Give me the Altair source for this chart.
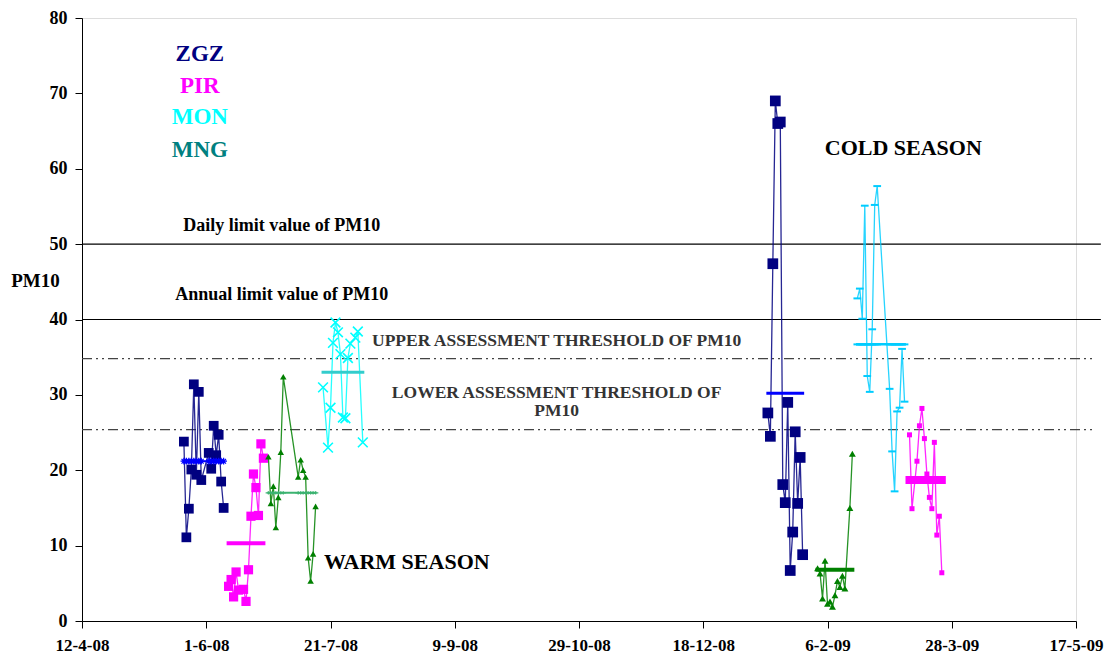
import altair as alt
import pandas as pd

# ---------------- data ----------------
zgz_w_dates = ["2008-05-23", "2008-05-24", "2008-05-25", "2008-05-26", "2008-05-27", "2008-05-28",
               "2008-05-29", "2008-05-30", "2008-06-02", "2008-06-03", "2008-06-04", "2008-06-05",
               "2008-06-06", "2008-06-07", "2008-06-08"]
zgz_w_vals = [23.8, 11.1, 14.9, 20.1, 31.4, 19.4, 30.4, 18.7, 22.3, 20.2, 25.9, 22.0, 24.7, 18.5, 15.0]
zgz_w_mean = 21.2

pir_w_dates = ["2008-06-10", "2008-06-11", "2008-06-12", "2008-06-13", "2008-06-14", "2008-06-16",
               "2008-06-17", "2008-06-18", "2008-06-19", "2008-06-20", "2008-06-21", "2008-06-22",
               "2008-06-23", "2008-06-24"]
pir_w_vals = [4.6, 5.5, 3.2, 6.5, 4.1, 4.2, 2.6, 6.8, 13.9, 19.5, 17.7, 14.0, 23.5, 21.6]
pir_w_mean = 10.3

mng_w_dates = ["2008-06-26", "2008-06-27", "2008-06-28", "2008-06-29", "2008-06-30", "2008-07-01",
               "2008-07-02", "2008-07-08", "2008-07-09", "2008-07-10", "2008-07-11", "2008-07-12",
               "2008-07-13", "2008-07-14", "2008-07-15"]
mng_w_vals = [21.8, 15.6, 17.9, 12.4, 16.4, 22.4, 32.4, 19.1, 21.4, 20.0, 19.1, 8.4, 5.3, 8.9, 15.2]
mng_w_mean = 17.0

mon_w_dates = ["2008-07-18", "2008-07-20", "2008-07-21", "2008-07-22", "2008-07-23", "2008-07-24",
               "2008-07-25", "2008-07-26", "2008-07-27", "2008-07-28", "2008-07-29", "2008-07-31",
               "2008-08-01", "2008-08-03"]
mon_w_vals = [31.0, 23.0, 28.3, 36.9, 39.6, 38.3, 35.4, 27.0, 26.9, 34.9, 36.8, 37.6, 38.4, 23.7]
mon_w_mean = 33.0

zgz_c_dates = ["2009-01-13", "2009-01-14", "2009-01-15", "2009-01-16", "2009-01-17", "2009-01-18",
               "2009-01-19", "2009-01-20", "2009-01-21", "2009-01-22", "2009-01-23", "2009-01-24",
               "2009-01-25", "2009-01-26", "2009-01-27"]
zgz_c_vals = [27.6, 24.5, 47.4, 69.0, 66.0, 66.2, 18.1, 15.7, 29.0, 6.7, 11.8, 25.1, 15.6, 21.7, 8.8]
zgz_c_mean = 30.2

mng_c_dates = ["2009-02-02", "2009-02-03", "2009-02-04", "2009-02-05", "2009-02-06", "2009-02-07",
               "2009-02-08", "2009-02-09", "2009-02-10", "2009-02-11", "2009-02-12", "2009-02-13",
               "2009-02-15", "2009-02-16"]
mng_c_vals = [7.0, 6.3, 3.0, 8.0, 2.3, 2.6, 1.9, 3.4, 5.3, 4.5, 6.0, 4.3, 15.0, 22.2]
mng_c_mean = 6.8

mon_c_dates = ["2009-02-18", "2009-02-19", "2009-02-20", "2009-02-21", "2009-02-22", "2009-02-23",
               "2009-02-24", "2009-02-25", "2009-02-26", "2009-03-03", "2009-03-04", "2009-03-05",
               "2009-03-06", "2009-03-07", "2009-03-08", "2009-03-09"]
mon_c_vals = [42.8, 44.1, 40.1, 55.1, 32.5, 30.4, 38.7, 55.2, 57.7, 30.8, 22.5, 17.2, 27.8, 28.3, 36.1, 29.1]
mon_c_mean = 36.7

pir_c_dates = ["2009-03-11", "2009-03-12", "2009-03-14", "2009-03-15", "2009-03-16", "2009-03-17",
               "2009-03-18", "2009-03-19", "2009-03-20", "2009-03-21", "2009-03-22", "2009-03-23",
               "2009-03-24"]
pir_c_vals = [24.7, 14.9, 21.2, 25.9, 28.2, 24.2, 19.5, 16.4, 14.9, 23.7, 11.4, 13.9, 6.4]
pir_c_mean = 18.7

daily_limit = 50
annual_limit = 40
upper_threshold = 34.8
lower_threshold = 25.4

x_tick_dates = ["2008-04-12", "2008-06-01", "2008-07-21", "2008-09-09", "2008-10-29",
                "2008-12-18", "2009-02-06", "2009-03-28", "2009-05-17"]
x_domain = ["2008-04-12", "2009-05-17"]
line_end = "2009-05-27"
dash_end = "2009-05-25"

legend_names = ["ZGZ", "PIR", "MON", "MNG"]
legend_colors = ["#000080", "#FF00FF", "#00FFFF", "#008080"]
legend_y = [75.2, 71.0, 66.8, 62.5]
legend_x = "2008-05-29T10:00"

FONT = "Liberation Serif"

# ---------------- scales ----------------
x_scale = alt.Scale(domain=[alt.DateTime(year=2008, month=4, date=12),
                            alt.DateTime(year=2009, month=5, date=17)])
y_scale = alt.Scale(domain=[0, 80])

tick_vals = [alt.DateTime(year=pd.Timestamp(d).year, month=pd.Timestamp(d).month,
                          date=pd.Timestamp(d).day) for d in x_tick_dates]

X = alt.X("date:T", scale=x_scale,
          axis=alt.Axis(values=tick_vals, format="%-d-%-m-%y", title=None, grid=False,
                        labelFont=FONT, labelFontSize=17, labelFontWeight="bold",
                        labelColor="black", domainColor="black", tickColor="black",
                        tickSize=7, labelPadding=9, labelFlush=False))
Y = alt.Y("value:Q", scale=y_scale,
          axis=alt.Axis(values=list(range(0, 81, 10)), title="PM10", grid=False,
                        labelFont=FONT, labelFontSize=18, labelFontWeight="bold",
                        labelColor="black", domainColor="black", tickColor="black",
                        tickSize=7, labelPadding=8,
                        titleFont=FONT, titleFontSize=19, titleFontWeight="bold",
                        titleColor="black", titleAngle=0, titleAlign="center",
                        titleBaseline="middle", titleX=-47, titleY=262))

XP = alt.X("date:T", scale=x_scale)
YP = alt.Y("value:Q", scale=y_scale)


def frame(dates, vals):
    return pd.DataFrame({"date": pd.to_datetime(dates), "value": vals})


def series(dates, vals, color, shape, size, filled=True, lw=1.3, pstroke=1.5):
    df = frame(dates, vals)
    line = alt.Chart(df).mark_line(color=color, strokeWidth=lw, opacity=0.85).encode(x=XP, y=YP)
    pts = alt.Chart(df).mark_point(shape=shape, size=size, filled=filled, color=color,
                                   opacity=1, strokeWidth=pstroke).encode(x=XP, y=YP)
    return [line, pts]


def mean_series(dates, value, color, lw, shape=None, size=30, pstroke=1.2):
    df = frame(dates, [value] * len(dates))
    layers = [alt.Chart(df).mark_line(color=color, strokeWidth=lw, strokeCap="square").encode(x=XP, y=YP)]
    if shape is not None:
        layers.append(alt.Chart(df).mark_point(shape=shape, size=size, filled=False, color=color,
                                               opacity=1, strokeWidth=pstroke).encode(x=XP, y=YP))
    return layers


X_SHAPE = "M-1,-1L1,1M1,-1L-1,1"
DASH_SHAPE = "M-1,0L1,0"
STAR_SHAPE = "M-1,0L1,0M0,-1L0,1M-0.7,-0.7L0.7,0.7M-0.7,0.7L0.7,-0.7"
PLUS_SHAPE = "M-1,0L1,0M0,-0.6L0,0.6"

layers = []

# reference lines
ref_df = pd.DataFrame({"date": pd.to_datetime([x_domain[0], x_domain[0]]),
                       "date2": pd.to_datetime([line_end, line_end]),
                       "value": [daily_limit, annual_limit]})
layers.append(alt.Chart(ref_df).mark_rule(color="black", strokeWidth=1.2, clip=False).encode(
    x=X, x2="date2:T", y=Y))
thr_df = pd.DataFrame({"date": pd.to_datetime([x_domain[0], x_domain[0]]),
                       "date2": pd.to_datetime([dash_end, dash_end]),
                       "value": [upper_threshold, lower_threshold]})
layers.append(alt.Chart(thr_df).mark_rule(color="#444444", strokeWidth=1.3, clip=False,
                                          strokeDash=[10, 4, 2, 4, 2, 4]).encode(
    x=XP, x2="date2:T", y=YP))

# warm season
layers += series(zgz_w_dates, zgz_w_vals, "#000080", "square", 95)
layers += mean_series(zgz_w_dates, zgz_w_mean, "#0000FF", 2, STAR_SHAPE, 45, 1.2)
layers += series(pir_w_dates, pir_w_vals, "#FF00FF", "square", 85)
layers += mean_series(pir_w_dates, pir_w_mean, "#FF00FF", 4)
layers += series(mng_w_dates, mng_w_vals, "#008000", "triangle-up", 42)
layers += mean_series(mng_w_dates, mng_w_mean, "#3CB371", 2, PLUS_SHAPE, 30, 1.2)
layers += series(mon_w_dates, mon_w_vals, "#00FFFF", X_SHAPE, 95, filled=False, lw=1.3, pstroke=1.6)
layers += mean_series(mon_w_dates, mon_w_mean, "#33CCCC", 3)

# cold season
layers += series(zgz_c_dates, zgz_c_vals, "#000080", "square", 115)
layers += mean_series(zgz_c_dates, zgz_c_mean, "#0000FF", 3)
layers += series(mng_c_dates, mng_c_vals, "#008000", "triangle-up", 48)
layers += mean_series(mng_c_dates, mng_c_mean, "#008000", 4)
layers += series(mon_c_dates, mon_c_vals, "#00CCFF", DASH_SHAPE, 60, filled=False, lw=1.3, pstroke=2)
layers += mean_series(mon_c_dates, mon_c_mean, "#00CCFF", 2.5, DASH_SHAPE, 60, 2)
layers += series(pir_c_dates, pir_c_vals, "#FF00FF", "square", 25)
layers += mean_series(pir_c_dates, pir_c_mean, "#FF00FF", 8)

# legend text
leg_df = pd.DataFrame({"date": pd.to_datetime([legend_x] * 4), "value": legend_y,
                       "label": legend_names, "color": legend_colors})
layers.append(alt.Chart(leg_df).mark_text(font=FONT, fontSize=23, fontWeight="bold",
                                          align="center", baseline="middle").encode(
    x=XP, y=YP, text="label:N", color=alt.Color("color:N", scale=None)))

# annotations
ann_big = pd.DataFrame({"date": pd.to_datetime(["2009-03-08T12:00", "2008-08-20T17:00"]),
                        "value": [62.8, 7.8], "label": ["COLD SEASON", "WARM SEASON"]})
layers.append(alt.Chart(ann_big).mark_text(font=FONT, fontSize=22, fontWeight="bold",
                                           color="black", align="center", baseline="middle").encode(
    x=XP, y=YP, text="label:N"))

ann_lim = pd.DataFrame({"date": pd.to_datetime(["2008-07-01T10:00", "2008-07-01T10:00"]),
                        "value": [52.4, 43.2],
                        "label": ["Daily limit value of PM10", "Annual limit value of PM10"]})
layers.append(alt.Chart(ann_lim).mark_text(font=FONT, fontSize=18, fontWeight="bold",
                                           color="black", align="center", baseline="middle").encode(
    x=XP, y=YP, text="label:N"))

ann_thr = pd.DataFrame({"date": pd.to_datetime(["2008-10-20", "2008-10-20", "2008-10-20"]),
                        "value": [37.2, 30.3, 27.8],
                        "label": ["UPPER ASSESSMENT THRESHOLD OF PM10",
                                  "LOWER ASSESSMENT THRESHOLD OF", "PM10"]})
layers.append(alt.Chart(ann_thr).mark_text(font=FONT, fontSize=17.5, fontWeight="bold",
                                           color="#333333", align="center", baseline="middle").encode(
    x=XP, y=YP, text="label:N"))

chart = alt.layer(*layers).properties(
    width=994, height=603,
    autosize=alt.AutoSizeParams(type="none"),
    padding={"left": 74, "top": 10, "right": 29, "bottom": 37},
).configure_view(stroke=None).configure(background="white")

chart.save("out.html", embed_options={"renderer": "svg", "actions": False})
